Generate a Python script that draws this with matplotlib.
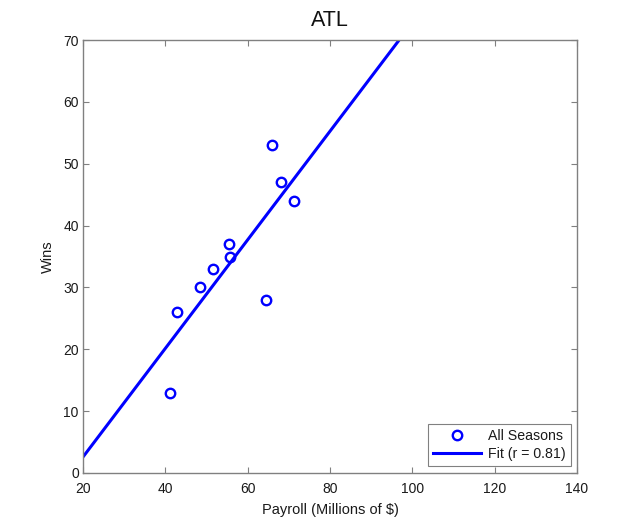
import numpy as np
import matplotlib
matplotlib.use("Agg")
import matplotlib.pyplot as plt

plt.rcParams['font.family'] = ['Liberation Sans', 'DejaVu Sans']

title = "ATL"
payroll = [41.1, 42.8, 48.5, 51.5, 55.5, 55.6, 64.4, 65.8, 68.2, 71.3]
wins = [13, 26, 30, 33, 37, 35, 28, 53, 47, 44]
xticks = [20, 40, 60, 80, 100, 120, 140]
yticks = [0, 10, 20, 30, 40, 50, 60, 70]

x = np.array(payroll)
y = np.array(wins)
slope, intercept = np.polyfit(x, y, 1)
r = np.corrcoef(x, y)[0, 1]

fig = plt.figure(figsize=(6.38, 5.32), dpi=100)
ax = fig.add_axes([83/638, 1 - 473/532, (577-83)/638, (473-40)/532])

blue = '#0000ff'
ax.plot(x, y, 'o', mfc='none', mec=blue, mew=1.7, ms=6.8, label='All Seasons', zorder=3)
xl = np.array([xticks[0], xticks[-1]])
ax.plot(xl, slope * xl + intercept, '-', color=blue, lw=2.2, label='Fit (r = %.2f)' % r)

ax.set_xlim(xticks[0], xticks[-1])
ax.set_ylim(yticks[0], yticks[-1])
ax.set_xticks(xticks)
ax.set_yticks(yticks)

gray = '#808080'
txt = '#1a1a1a'
for s in ax.spines.values():
    s.set_color(gray)
    s.set_linewidth(1.0)
ax.tick_params(direction='in', length=4, width=0.8, color=gray, labelsize=10,
               labelcolor=txt, top=True, right=True)
ax.tick_params(axis='x', pad=6.5)
ax.tick_params(axis='y', pad=3)

ax.set_xlabel('Payroll (Millions of $)', fontsize=10.5, color=txt, labelpad=5)
ax.set_ylabel('Wins', fontsize=10.5, color=txt, labelpad=6)
ax.set_title(title, fontsize=15.5, color='#111111', pad=10)

leg = ax.legend(loc='lower right', bbox_to_anchor=(0.988, 0.016), borderaxespad=0,
                fancybox=False, fontsize=10.2, handlelength=3.4, numpoints=1,
                framealpha=1, borderpad=0.35, labelspacing=0.3, handletextpad=0.5)
leg.get_frame().set_edgecolor(gray)
leg.get_frame().set_linewidth(0.8)
for t in leg.get_texts():
    t.set_color(txt)

fig.savefig('out.png', dpi=100)
